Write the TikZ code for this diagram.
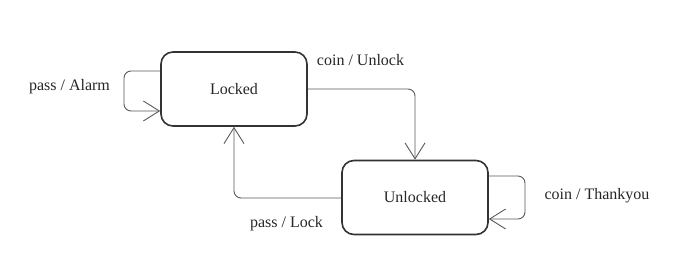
\documentclass[tikz,border=0pt]{standalone}
\usepackage{fontspec}
\setmainfont{Liberation Serif}
\usetikzlibrary{arrows.meta}
\begin{document}
\begin{tikzpicture}[x=1pt,y=-1pt,
  state/.style={draw=black!80,line width=1.6pt,rounded corners=12pt,minimum width=146pt,minimum height=74pt,inner sep=0pt,font=\fontsize{16}{19}\selectfont,text=black!85},
  trans/.style={draw=black!65,line width=0.9pt,rounded corners=7pt,-{Straight Barb[length=16pt,width=20pt,line width=0.9pt]}},
  lbl/.style={font=\fontsize{16}{19}\selectfont,text=black!85}]
\useasboundingbox (0,0) rectangle (678,264);
\node[state] (L) at (234,89) {Locked};
\node[state] (U) at (415,197.5) {Unlocked};
\coordinate (l1) at (124,71);
\coordinate (l2) at (124,111);
\draw[trans] (L.west |- l1) -- (l1) -- (l2) -- (L.west |- l2);
\coordinate (c1) at (415,89);
\draw[trans] (L.east) -- (c1) -- (U.north);
\coordinate (p1) at (234,198);
\draw[trans] (U.west |- p1) -- (p1) -- (L.south);
\coordinate (t1) at (525,176);
\coordinate (t2) at (525,219);
\draw[trans] (U.east |- t1) -- (t1) -- (t2) -- (U.east |- t2);
\node[lbl] (a1) at (69.5,87) {pass / Alarm};
\node[lbl] (a2) at (360.5,60) {coin / Unlock};
\node[lbl] (a3) at (597,196) {coin / Thankyou};
\node[lbl] (a4) at (286.5,224) {pass / Lock};
\end{tikzpicture}
\end{document}
